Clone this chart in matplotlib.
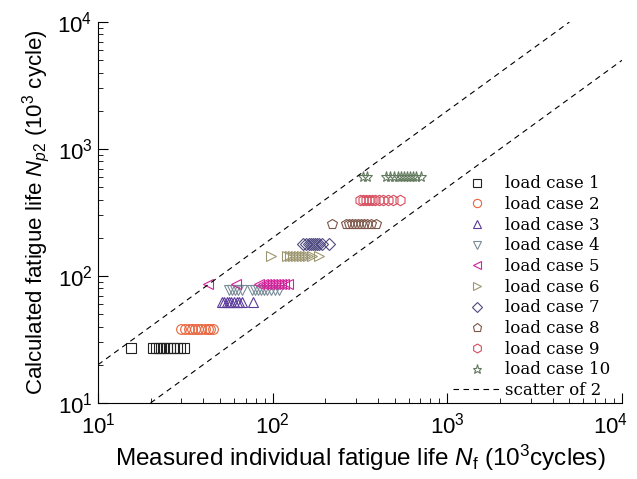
import numpy as np
import matplotlib
matplotlib.use("Agg")
import matplotlib.pyplot as plt
import matplotlib.transforms as mtransforms

plt.rcParams['font.family'] = ['Liberation Sans', 'DejaVu Sans']
plt.rcParams['mathtext.fontset'] = 'custom'
plt.rcParams['mathtext.rm'] = 'Liberation Sans'
plt.rcParams['mathtext.it'] = 'Liberation Sans:italic'
plt.rcParams['mathtext.bf'] = 'Liberation Sans:bold'

# measured life N_f (10^3 cycles) and calculated life N_p2 per load case
nf_1 = [15.4, 20.6, 21.5, 22.4, 22.9, 23.9, 24.8, 25.8, 26.9, 28.3, 29.5, 31.1]
np_1 = 27
nf_2 = [29.9, 31.5, 33.2, 34.5, 35.9, 37.4, 38.9, 41.0, 42.6, 43.8, 45.5]
np_2 = 38
nf_3 = [51.3, 53.0, 54.8, 56.2, 58.1, 60.1, 62.1, 64.2, 66.7, 77.1]
np_3 = 62
nf_4 = [56.2, 58.5, 60.9, 63.3, 66.7, 76.1, 79.2, 82.4, 85.7, 89.2, 92.8, 97.8, 103.1, 108.7]
np_4 = 77
nf_5 = [42.6, 61.3, 83.5, 88.1, 91.6, 95.3, 99.1, 103.1, 107.2, 111.6, 116.1, 122.4]
np_5 = 87
nf_6 = [97.8, 120.8, 125.6, 130.6, 136.0, 141.5, 147.2, 153.1, 159.3, 167.9, 184.2]
np_6 = 144
nf_7 = [149.2, 155.2, 161.5, 165.7, 170.2, 174.7, 179.4, 184.2, 191.6, 210.1]
np_7 = 179
nf_8 = [218.6, 263.0, 273.5, 284.6, 296.0, 307.9, 320.3, 333.2, 346.6, 365.5, 390.5]
np_8 = 257
nf_9 = [316.2, 328.9, 342.2, 356.0, 370.4, 385.3, 406.4, 428.5, 457.4, 488.3, 535.6]
np_9 = 397
nf_10 = [328.9, 346.6, 445.6, 469.8, 495.0, 521.8, 542.8, 564.6, 587.3, 611.0, 635.5, 661.2, 706.3]
np_10 = 602

cases = [
    (nf_1, np_1, 's', '#222222', 6.5),
    (nf_2, np_2, 'o', '#E8643C', 7),
    (nf_3, np_3, '^', '#5A3A9A', 7.5),
    (nf_4, np_4, 'v', '#7A8C99', 7.5),
    (nf_5, np_5, '<', '#D4219A', 7.5),
    (nf_6, np_6, '>', '#9C9670', 7.5),
    (nf_7, np_7, 'D', '#4E4A80', 6),
    (nf_8, np_8, 'p', '#7D5548', 7.5),
    (nf_9, np_9, 'h', '#D84C5E', 7.5),
    (nf_10, np_10, '*', '#627A5E', 8),
]

fig = plt.figure(figsize=(6.37, 4.79), dpi=100)
ax = fig.add_axes([0.1538, 0.1587, 0.8227, 0.7953])

for i, (nf, npv, mk, col, ms) in enumerate(cases):
    ax.plot(nf, [npv] * len(nf), linestyle='none', marker=mk, markersize=ms,
            markerfacecolor='none', markeredgecolor=col, markeredgewidth=0.8,
            label='load case %d' % (i + 1))

# scatter band of factor 2
band_upper_x = np.array([10, 5000])
band_lower_x = np.array([20, 10000])
ax.plot(band_upper_x, 2 * band_upper_x, 'k--', lw=0.8, dashes=(5, 4), label='scatter of 2')
ax.plot(band_lower_x, band_lower_x / 2, 'k--', lw=0.8, dashes=(5, 4))

ax.set_xscale('log')
ax.set_yscale('log')
ax.set_xlim(10, 10000)
ax.set_ylim(10, 10000)
ax.spines['top'].set_visible(False)
ax.spines['right'].set_visible(False)
ax.tick_params(which='both', direction='in', labelsize=16)
ax.tick_params(which='major', length=7, width=0.8, pad=4)
ax.tick_params(which='minor', length=3.5, width=0.6)
ax.tick_params(axis='x', which='major', pad=7)

ax.set_xlabel(r'Measured individual fatigue life $\mathit{N}_\mathrm{f}$ (10$^3$cycles)', fontsize=17.5, labelpad=3)
ax.set_ylabel(r'Calculated fatigue life $\mathit{N}_{\mathit{p}2}$ (10$^3$ cycle)', fontsize=16, labelpad=4)

# keep the last x label inside the figure
fig.canvas.draw()
last = ax.get_xticklabels()[-1]
for lab in ax.get_xticklabels():
    if lab.get_position()[0] == 10000:
        last = lab
last.set_transform(last.get_transform() + mtransforms.ScaledTranslation(-8 / 72, 0, fig.dpi_scale_trans))

ax.legend(loc='upper left', bbox_to_anchor=(0.655, 0.628), frameon=False,
          prop={'family': 'DejaVu Serif', 'size': 12.0}, handlelength=2.9,
          handletextpad=0.2, labelspacing=0.22, borderpad=0.2, markerscale=0.85)

fig.savefig('out.png', dpi=100)
